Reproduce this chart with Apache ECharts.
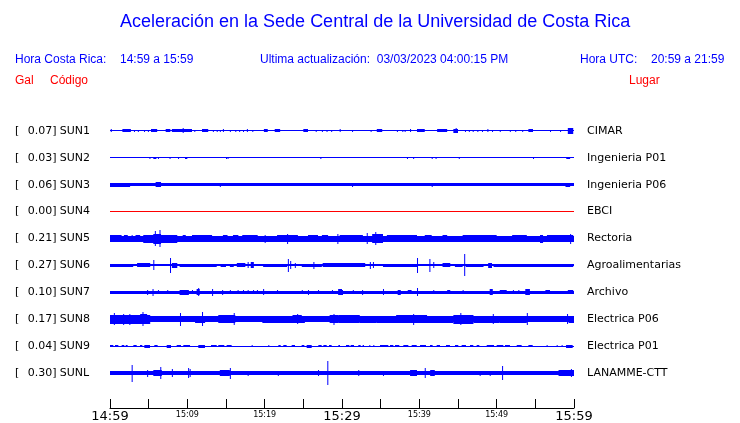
<!DOCTYPE html>
<html>
<head>
<meta charset="utf-8">
<script src="https://cdn.jsdelivr.net/npm/echarts@6/dist/echarts.min.js"></script>
<style>html,body{margin:0;padding:0;background:#fff}#c{width:740px;height:423px}</style>
</head>
<body>
<div id="c"></div>
<script>
// ---------- DATA ----------
const stations = ['SUN1','SUN2','SUN3','SUN4','SUN5','SUN6','SUN7','SUN8','SUN9','SUNL'];
const places = ['CIMAR','Ingenieria P01','Ingenieria P06','EBCI','Rectoria','Agroalimentarias','Archivo','Electrica P06','Electrica P01','LANAMME-CTT'];
const galMax = ['0.07','0.03','0.06','0.00','0.21','0.27','0.10','0.17','0.04','0.30'];
const timeLabels = ['14:59','15:09','15:19','15:29','15:39','15:49','15:59'];
// baseline half-amplitude (Gal) of each trace
const baseNoise = [0, 0, 0.042, 0, 0.07, 0.03, 0.04, 0.07, 0, 0.045];

// bursts: [start minute, end minute, half-amplitude Gal]; spikes: [minute, half-amplitude Gal]
const burstsSUN1 = [[1.6,2.7,0.04],[5.3,6.1,0.035],[7.2,7.8,0.035],[8.0,10.6,0.04],[11.9,12.7,0.04],[19.9,20.4,0.035],[21.3,22.0,0.035],[25.0,25.6,0.04],[34.5,35.2,0.035],[39.7,40.7,0.035],[42.3,43.6,0.035],[44.4,45.0,0.05],[54.1,54.7,0.04],[59.2,59.9,0.07]];
const spikesSUN1 = [[0.1,0.04],[3.1,0.03],[3.6,0.03],[4.4,0.03],[4.9,0.03],[9.4,0.06],[10.9,0.03],[13.3,0.03],[13.8,0.03],[14.2,0.03],[14.6,0.04],[15.5,0.03],[16.2,0.03],[16.7,0.03],[17.2,0.03],[17.7,0.04],[18.4,0.03],[26.6,0.03],[27.4,0.03],[28.0,0.03],[28.6,0.03],[29.7,0.04],[31.3,0.03],[33.7,0.03],[37.1,0.03],[37.8,0.03],[38.1,0.03],[38.8,0.04],[44.7,0.06],[45.9,0.03],[46.4,0.03],[46.9,0.03],[47.5,0.03],[48.1,0.03],[48.8,0.04],[49.4,0.03],[50.4,0.03],[51.7,0.03],[52.4,0.03],[53.3,0.03],[56.9,0.03],[58.2,0.03]];

const burstsSUN2 = [[5.6,6.0,0.03],[9.7,10.0,0.03],[59.0,59.5,0.03]];
const spikesSUN2 = [[5.1,0.025],[6.2,0.025],[7.7,0.025],[8.8,0.02],[15.0,0.02],[15.2,0.025],[27.2,0.025],[38.4,0.02],[39.2,0.02],[41.6,0.03],[42.1,0.02],[45.1,0.025],[54.7,0.02]];

const burstsSUN3 = [[0,2.6,0.045],[5.9,6.6,0.062],[58.9,59.5,0.056]];
const spikesSUN3 = [[6.2,0.066],[14.2,0.052],[31.3,0.046],[41.6,0.056]];

const burstsSUN4 = [];
const spikesSUN4 = [];

const burstsSUN5 = [[0,1.5,0.09],[1.8,2.3,0.085],[3.3,3.9,0.085],[4.3,8.7,0.1],[5.6,6.6,0.13],[9.4,9.8,0.085],[10.6,13.2,0.09],[14.6,15.2,0.085],[15.9,16.6,0.085],[17.1,19.1,0.085],[21.6,24.3,0.09],[25.6,26.9,0.085],[27.4,28.2,0.085],[29.7,32.7,0.09],[33.9,35.3,0.115],[35.8,39.7,0.085],[40.7,41.6,0.09],[43.0,43.6,0.09],[45.6,50.0,0.085],[52.0,53.9,0.09],[55.6,56.0,0.1],[56.5,59.9,0.09]];
const spikesSUN5 = [[5.8,0.19],[6.4,0.21],[2.8,0.09],[20.0,0.1],[22.9,0.12],[29.4,0.12],[33.2,0.14],[34.3,0.165],[59.5,0.12]];

const burstsSUN6 = [[0,3.0,0.04],[3.5,5.2,0.045],[8.0,8.7,0.06],[9.0,13.8,0.04],[14.3,15.0,0.04],[15.5,16.0,0.035],[16.4,17.5,0.045],[18.2,18.6,0.07],[19.8,22.9,0.04],[24.8,27.4,0.04],[27.5,33.0,0.045],[35.3,39.7,0.04],[43.0,44.0,0.05],[44.6,45.6,0.04],[46.0,48.3,0.04],[48.9,49.4,0.06],[49.6,59.9,0.04]];
const spikesSUN6 = [[5.6,0.13],[7.76,0.19],[17.8,0.08],[23.0,0.16],[23.3,0.1],[23.9,0.06],[26.3,0.09],[33.6,0.09],[34.0,0.07],[39.7,0.19],[41.3,0.16],[41.8,0.07],[45.8,0.27]];

const burstsSUN7 = [[9.0,10.2,0.065],[11.2,11.6,0.08],[29.5,30.0,0.07],[37.2,37.6,0.06],[38.5,39.0,0.055],[43.6,44.0,0.055],[49.1,49.5,0.07],[50.4,51.3,0.055],[53.7,54.3,0.07],[56.3,56.9,0.05],[59.2,59.9,0.055]];
const spikesSUN7 = [[4.8,0.065],[5.5,0.09],[6.2,0.055],[7.4,0.055],[10.6,0.055],[11.4,0.1],[13.2,0.09],[14.5,0.06],[15.5,0.055],[16.5,0.055],[17.2,0.055],[17.8,0.055],[18.5,0.055],[19.0,0.055],[19.8,0.075],[21.6,0.05],[24.8,0.05],[25.6,0.06],[26.9,0.055],[28.7,0.05],[30.0,0.06],[31.4,0.055],[32.6,0.06],[35.3,0.07],[39.7,0.1],[41.8,0.05],[45.6,0.055],[52.1,0.05],[52.8,0.05]];

const burstsSUN8 = [[0,5.2,0.115],[3.9,4.8,0.13],[5.2,8.8,0.08],[11.0,12.3,0.09],[14.0,16.2,0.095],[16.5,19.5,0.08],[19.7,25.2,0.09],[23.6,24.8,0.105],[25.2,28.0,0.08],[28.4,29.5,0.105],[29.5,32.3,0.1],[32.3,34.5,0.085],[34.5,44.4,0.09],[37.0,41.0,0.1],[44.4,47.0,0.11],[47.0,50.4,0.09],[50.4,53.9,0.09],[59.3,60.0,0.085]];
const spikesSUN8 = [[0.5,0.15],[1.7,0.14],[2.5,0.14],[4.2,0.17],[9.05,0.16],[11.9,0.17],[16.0,0.15],[24.2,0.13],[28.9,0.14],[39.2,0.14],[45.3,0.15],[49.5,0.13],[53.9,0.15],[59.1,0.12]];

const burstsSUN9 = [[0.0,0.43,0.03],[0.65,1.08,0.03],[1.51,1.85,0.03],[2.03,2.28,0.03],[3.02,3.45,0.03],[3.88,4.18,0.03],[4.44,5.17,0.035],[5.73,6.16,0.03],[7.33,7.89,0.035],[8.62,9.18,0.03],[9.48,10.35,0.03],[11.42,12.28,0.035],[13.06,13.8,0.03],[14.0,14.78,0.03],[15.08,15.73,0.03],[21.77,22.07,0.03],[22.41,22.84,0.03],[23.49,23.92,0.03],[24.78,25.13,0.03],[25.43,26.08,0.035],[26.94,27.37,0.03],[27.59,28.02,0.03],[28.32,28.66,0.03],[29.53,29.74,0.03],[30.52,30.95,0.03],[31.12,31.55,0.03],[32.11,32.41,0.03],[32.67,32.84,0.03],[34.91,35.99,0.03],[36.21,36.64,0.03],[36.85,37.41,0.03],[37.93,38.58,0.03],[39.01,39.66,0.03],[40.09,40.86,0.03],[41.38,41.72,0.03],[42.24,42.67,0.03],[43.45,43.96,0.03],[44.61,45.04,0.03],[45.47,46.03,0.03],[46.55,46.98,0.03],[47.41,47.76,0.03],[48.71,49.66,0.03],[50.0,50.86,0.03],[51.08,51.72,0.03],[52.59,53.23,0.03],[54.1,54.66,0.03],[58.97,59.83,0.04]];
const spikesSUN9 = [[18.32,0.03],[20.47,0.03],[33.53,0.03],[34.05,0.03],[56.46,0.03],[57.76,0.03],[58.4,0.03]];

const burstsSUNL = [[5.6,6.7,0.07],[14.2,15.5,0.07],[38.8,39.7,0.07],[41.4,42.0,0.08],[58.0,60.0,0.08]];
const spikesSUNL = [[2.8,0.21],[4.8,0.085],[6.5,0.15],[8.0,0.1],[10.1,0.13],[10.3,0.1],[15.5,0.14],[17.8,0.06],[21.7,0.065],[26.9,0.07],[28.1,0.30],[29.1,0.05],[32.1,0.08],[35.3,0.06],[37.5,0.05],[40.7,0.13],[44.4,0.05],[47.8,0.06],[49.1,0.06],[50.7,0.18],[53.0,0.05],[55.6,0.05],[59.6,0.1]];

const burstsAll = [burstsSUN1,burstsSUN2,burstsSUN3,burstsSUN4,burstsSUN5,burstsSUN6,burstsSUN7,burstsSUN8,burstsSUN9,burstsSUNL];
const spikesAll = [spikesSUN1,spikesSUN2,spikesSUN3,spikesSUN4,spikesSUN5,spikesSUN6,spikesSUN7,spikesSUN8,spikesSUN9,spikesSUNL];

// ---------- STYLE ----------
const GAL_TO_SLOT = 40 / 27;   // vertical gain: trace spacing unit per Gal
const SPIKE_W = 0.13;          // spike width in minutes (~1px)
const BLUE = '#0000ff', RED = '#ff0000';
const traceColors = stations.map((s, i) => galMax[i] === '0.00' ? RED : BLUE);

function renderItem(params, api) {
  const t0 = api.value(0), t1 = api.value(1), a = api.value(2), slot = api.value(3);
  const p0 = api.coord([t0, slot]);
  const p1 = api.coord([t1, slot]);
  const pt = api.coord([t0, slot - a * GAL_TO_SLOT]);
  const half = Math.abs(p0[1] - pt[1]);
  const h = Math.max(1, Math.round(2 * half));
  const w = Math.max(1, p1[0] - p0[0]);
  return {
    type: 'rect',
    shape: { x: p0[0], y: Math.round(p0[1] - h / 2), width: w, height: h },
    style: { fill: api.visual('color') }
  };
}

const series = stations.map((s, i) => {
  const items = [[0, 60, baseNoise[i], i]];
  burstsAll[i].forEach(b => items.push([b[0], b[1], b[2], i]));
  spikesAll[i].forEach(p => items.push([p[0], p[0] + SPIKE_W, p[1], i]));
  return {
    type: 'custom', name: s, renderItem, data: items,
    encode: { x: [0, 1], y: 3 }, itemStyle: { color: traceColors[i] },
    animation: false, silent: true, clip: false
  };
});

const font = 'DejaVu Sans';
const sans = 'Liberation Sans';
const hdr = (text, left, top, color, size) => ({
  text, left, top, padding: 0,
  textStyle: { fontFamily: sans, fontSize: size, fontWeight: 'normal', color }
});

const chart = echarts.init(document.getElementById('c'), null, { renderer: 'canvas' });
chart.setOption({
  backgroundColor: '#fff',
  animation: false,
  title: [
    hdr('Aceleración en la Sede Central de la Universidad de Costa Rica', 120, 13, BLUE, 18),
    hdr('Hora Costa Rica:', 15, 54, BLUE, 12),
    hdr(timeLabels[0] + ' a ' + timeLabels[6], 120, 54, BLUE, 12),
    hdr('Ultima actualización:  03/03/2023 04:00:15 PM', 260, 54, BLUE, 12),
    hdr('Hora UTC:', 580, 54, BLUE, 12),
    hdr('20:59 a 21:59', 651, 54, BLUE, 12),
    hdr('Gal', 15, 75, RED, 12),
    hdr('Código', 50, 75, RED, 12),
    hdr('Lugar', 629, 75, RED, 12)
  ],
  grid: { left: 110, right: 166, top: 104, bottom: 14 },
  xAxis: {
    type: 'value', position: 'bottom', min: 0, max: 60, interval: 5,
    axisLine: { onZero: false, lineStyle: { color: '#000', width: 1 } },
    axisTick: { inside: true, length: 9, lineStyle: { color: '#000', width: 1 } },
    splitLine: { show: false },
    axisLabel: {
      margin: 2, color: '#000', fontFamily: font,
      formatter: v => {
        if (v % 10 !== 0) return '';
        const lab = timeLabels[v / 10];
        return (v % 30 === 0) ? '{b|' + lab + '}' : '{s|' + lab + '}';
      },
      rich: {
        b: { fontSize: 13, fontFamily: font, color: '#000' },
        s: { fontSize: 8, fontFamily: font, color: '#000', padding: [1, 0, 0, 0] }
      }
    }
  },
  yAxis: [
    {
      type: 'value', min: -1, max: 10.3, interval: 1, inverse: true,
      axisLine: { show: false }, axisTick: { show: false }, splitLine: { show: false },
      axisLabel: {
        align: 'left', margin: 95, color: '#000', fontFamily: font, fontSize: 11,
        formatter: v => (Number.isInteger(v) && v >= 0 && v < stations.length)
          ? '{br|[}{v|' + galMax[v] + ']}{n|' + stations[v] + '}' : '',
        rich: {
          br: { width: 12.7, fontFamily: font, fontSize: 11, color: '#000' },
          v: { width: 32, fontFamily: font, fontSize: 11, color: '#000' },
          n: { fontFamily: font, fontSize: 11, color: '#000' }
        }
      }
    },
    {
      type: 'value', position: 'right', min: -1, max: 10.3, interval: 1, inverse: true,
      axisLine: { show: false }, axisTick: { show: false }, splitLine: { show: false },
      axisLabel: {
        align: 'left', margin: 13, color: '#000', fontFamily: font, fontSize: 11,
        formatter: v => (Number.isInteger(v) && v >= 0 && v < places.length) ? places[v] : ''
      }
    }
  ],
  series
});
</script>
</body>
</html>
